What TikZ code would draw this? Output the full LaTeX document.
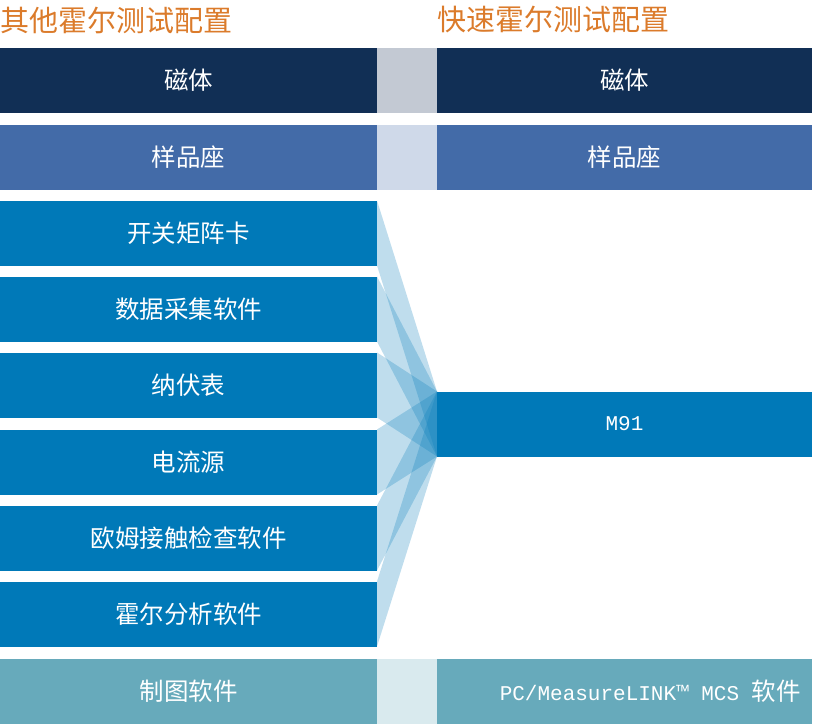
\documentclass[tikz,border=0pt]{standalone}
\usepackage{fontspec}
\newfontfamily\cjk{Noto Sans CJK SC}
\newfontfamily\monof{Liberation Mono}
\definecolor{navy}{HTML}{112F55}
\definecolor{navygap}{HTML}{C3C9D3}
\definecolor{midblue}{HTML}{436BA8}
\definecolor{midgap}{HTML}{CFD9E9}
\definecolor{mainblue}{HTML}{0079B8}
\definecolor{teal}{HTML}{67AABB}
\definecolor{tealgap}{HTML}{D9EAEE}
\definecolor{titleorange}{HTML}{DB7B2B}
\tikzset{
  bar/.style={rectangle, inner sep=0pt, outer sep=0pt, minimum height=65pt, text=white, font=\cjk\fontsize{24.5}{26}\selectfont},
  leftbar/.style={bar, minimum width=377pt},
  rightbar/.style={bar, minimum width=375pt},
  gapbar/.style={rectangle, inner sep=0pt, outer sep=0pt, minimum height=65pt, minimum width=60pt},
  band/.style={fill=mainblue, fill opacity=0.25, draw=none},
  titletext/.style={text=titleorange, font=\cjk\fontsize{29}{31}\selectfont, inner sep=0pt, anchor=west}
}
\begin{document}
\begin{tikzpicture}[x=1pt,y=-1pt]
\useasboundingbox (0,0) rectangle (813,725);
% titles
\node[titletext] (t1) at (0,20) {其他霍尔测试配置};
\node[titletext] (t2) at (437,20) {快速霍尔测试配置};
% magnet row
\node[leftbar, fill=navy] (mL) at (188.5,80.5) {磁体};
\node[gapbar, fill=navygap] (mG) at (407,80.5) {};
\node[rightbar, fill=navy] (mR) at (624.5,80.5) {磁体};
% sample seat row
\node[leftbar, fill=midblue] (sL) at (188.5,157) {样品座};
\node[gapbar, fill=midgap] (sG) at (407,157) {};
\node[rightbar, fill=midblue] (sR) at (624.5,157) {样品座};
% M91
\node[rightbar, fill=mainblue, font=\monof\fontsize{21}{23}\selectfont] (m91) at (624.5,424) {M91};
% left instrument boxes
\foreach \n/\y/\t in {b1/233/开关矩阵卡, b2/309/数据采集软件, b3/385/纳伏表, b4/462/电流源, b5/538/欧姆接触检查软件, b6/614/霍尔分析软件}{
  \node[leftbar, fill=mainblue] (\n) at (188.5,\y) {\t};
}
% bands
\foreach \n in {b1,b2,b3,b4,b5,b6}{
  \fill[band] (\n.north east) -- (m91.north west) -- (m91.south west) -- (\n.south east) -- cycle;
}
% bottom row
\node[leftbar, fill=teal] (pL) at (188.5,691) {制图软件};
\node[gapbar, fill=tealgap] (pG) at (407,691) {};
\node[rightbar, fill=teal] (pR) at (624.5,691) {};
\node[text=white, inner sep=0pt, anchor=east] (pT) at (801,691) {{\monof\fontsize{21}{23}\selectfont PC/MeasureLINK™ MCS }{\cjk\fontsize{24.5}{26}\selectfont 软件}};
\end{tikzpicture}
\end{document}
